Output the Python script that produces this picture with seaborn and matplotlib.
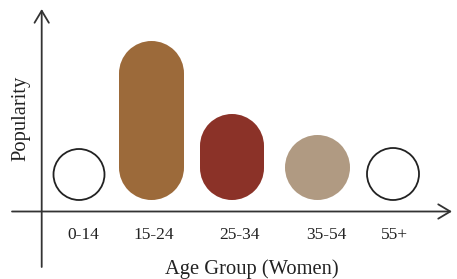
import matplotlib
matplotlib.use("Agg")
import numpy as np
import matplotlib.pyplot as plt
import seaborn as sns
from matplotlib.path import Path
from matplotlib.patches import PathPatch

# data
age_groups = ["0-14", "15-24", "25-34", "35-54", "55+"]
popularity = [51, 159, 86, 65, 52]

# layout / style (pixel units, y measured up from the shapes' baseline)
centers = [79, 151.5, 232, 317.5, 393]
widths = [51, 65, 64, 65, 52]
label_x = [83, 153.5, 240, 326, 394]
fills = ["white", "#9C6A3A", "#8B3228", "#B09A82", "white"]
edges = ["#222222", "none", "none", "none", "#222222"]

sns.set_theme(style="white")
plt.rcParams["font.family"] = ["Liberation Serif", "DejaVu Serif"]


def pill_path(cx, w, h):
    # stadium shape: two semicircles joined by straight sides
    r = w / 2
    top = Path.arc(0, 180)
    bot = Path.arc(180, 360)
    v1 = top.vertices * r + [cx, h - r]
    v2 = bot.vertices * r + [cx, r]
    verts = np.vstack([v1, v2, v1[:1]])
    codes = list(top.codes) + [Path.LINETO] + list(bot.codes[1:]) + [Path.CLOSEPOLY]
    return Path(verts, codes)


W, H = 457, 279
fig = plt.figure(figsize=(W / 100, H / 100), dpi=100)
x0, x1 = 41.7, 452
ytop, yaxis, ybase = 9, 211.5, 200
ax = fig.add_axes([x0 / W, 1 - yaxis / H, (x1 - x0) / W, (yaxis - ytop) / H])

sns.barplot(x=centers, y=popularity, hue=age_groups, native_scale=True,
            palette=dict(zip(age_groups, fills)), legend=False, ax=ax)

# turn the plain bars into rounded pills
bars = sorted(ax.patches, key=lambda p: p.get_x())
for i, p in enumerate(bars):
    cx = p.get_x() + p.get_width() / 2
    h = p.get_height()
    p.remove()
    ax.add_patch(PathPatch(pill_path(cx, widths[i], h), facecolor=fills[i],
                           edgecolor=edges[i], linewidth=1.3))

ax.set_xlim(x0, x1)
ax.set_ylim(ybase - yaxis, ybase - ytop)
for s in ax.spines.values():
    s.set_visible(False)
ax.set_yticks([])
ax.set_xticks(label_x, age_groups)
ax.tick_params(axis="x", length=0, pad=11, labelsize=12.5, labelcolor="#222222")
ax.set_xlabel("")
ax.set_ylabel("")

arrow = dict(arrowstyle="->,head_length=0.72,head_width=0.43", lw=1.3,
             color="#333333", shrinkA=0, shrinkB=0)
ax.annotate("", xy=(x0, ybase - ytop), xytext=(x0, ybase - 267),
            arrowprops=arrow, annotation_clip=False)
ax.annotate("", xy=(x1, ybase - yaxis), xytext=(12, ybase - yaxis),
            arrowprops=arrow, annotation_clip=False)

fig.text(252 / W, 1 - 274 / H, "Age Group (Women)", ha="center", va="baseline",
         fontsize=14.8, color="#222222")
fig.text(21 / W, 1 - 118.5 / H, "Popularity", ha="center", va="center",
         rotation=90, fontsize=14.8, color="#222222")

fig.savefig("out.png", dpi=100)
